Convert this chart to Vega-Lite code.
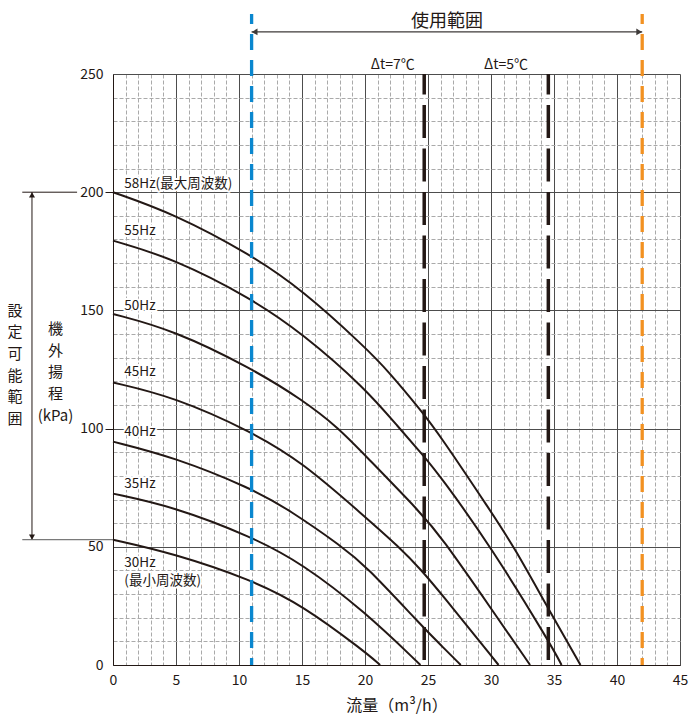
{
  "$schema": "https://vega.github.io/schema/vega-lite/v6.json",
  "width": 567,
  "height": 591,
  "autosize": {"type": "none"},
  "padding": {"left": 113, "top": 74, "right": 11, "bottom": 63},
  "background": "white",
  "config": {
    "view": {"stroke": null},
    "font": "Noto Sans CJK JP",
    "text": {"font": "Noto Sans CJK JP", "color": "#231815"}
  },
  "datasets": {
    "curves": [
      {"f": "58Hz", "Q": 0, "H": 200}, {"f": "58Hz", "Q": 4.8, "H": 191}, {"f": "58Hz", "Q": 11, "H": 173.4},
      {"f": "58Hz", "Q": 15, "H": 158.7}, {"f": "58Hz", "Q": 20, "H": 134.5},
      {"f": "58Hz", "Q": 21.9, "H": 124}, {"f": "58Hz", "Q": 24.5, "H": 107.3}, {"f": "58Hz", "Q": 25.9, "H": 97.5},
      {"f": "58Hz", "Q": 30, "H": 64.9}, {"f": "58Hz", "Q": 31.9, "H": 49.3}, {"f": "58Hz", "Q": 34.4, "H": 25.2},
      {"f": "58Hz", "Q": 37.1, "H": 0},
      {"f": "55Hz", "Q": 0, "H": 179.5}, {"f": "55Hz", "Q": 4.8, "H": 172}, {"f": "55Hz", "Q": 11, "H": 155},
      {"f": "55Hz", "Q": 15, "H": 140.4}, {"f": "55Hz", "Q": 20, "H": 117.2}, {"f": "55Hz", "Q": 22.7, "H": 100.3},
      {"f": "55Hz", "Q": 24.6, "H": 88.8}, {"f": "55Hz", "Q": 26, "H": 79.7}, {"f": "55Hz", "Q": 30, "H": 50},
      {"f": "55Hz", "Q": 34.8, "H": 8.2}, {"f": "55Hz", "Q": 35.6, "H": 0},
      {"f": "50Hz", "Q": 0, "H": 148.5}, {"f": "50Hz", "Q": 4.8, "H": 141.7}, {"f": "50Hz", "Q": 11, "H": 125.5},
      {"f": "50Hz", "Q": 15, "H": 112.3}, {"f": "50Hz", "Q": 17.9, "H": 100.3}, {"f": "50Hz", "Q": 20, "H": 88.7},
      {"f": "50Hz", "Q": 24.5, "H": 64}, {"f": "50Hz", "Q": 26, "H": 54.5}, {"f": "50Hz", "Q": 30, "H": 24},
      {"f": "50Hz", "Q": 33.1, "H": 0},
      {"f": "45Hz", "Q": 0, "H": 119.5}, {"f": "45Hz", "Q": 4.8, "H": 113.5}, {"f": "45Hz", "Q": 11, "H": 98.7},
      {"f": "45Hz", "Q": 15, "H": 85.9}, {"f": "45Hz", "Q": 20, "H": 62.7}, {"f": "45Hz", "Q": 22.7, "H": 50},
      {"f": "45Hz", "Q": 24.5, "H": 40}, {"f": "45Hz", "Q": 26, "H": 30.5}, {"f": "45Hz", "Q": 30.6, "H": 0},
      {"f": "40Hz", "Q": 0, "H": 94.5}, {"f": "40Hz", "Q": 4.8, "H": 88}, {"f": "40Hz", "Q": 11, "H": 74.7},
      {"f": "40Hz", "Q": 14, "H": 65.6}, {"f": "40Hz", "Q": 18.2, "H": 50}, {"f": "40Hz", "Q": 20, "H": 42.3},
      {"f": "40Hz", "Q": 24.6, "H": 16}, {"f": "40Hz", "Q": 26, "H": 8.5}, {"f": "40Hz", "Q": 27.6, "H": 0},
      {"f": "35Hz", "Q": 0, "H": 72.5}, {"f": "35Hz", "Q": 4.8, "H": 67}, {"f": "35Hz", "Q": 11, "H": 54.3},
      {"f": "35Hz", "Q": 15, "H": 43}, {"f": "35Hz", "Q": 20, "H": 22.5}, {"f": "35Hz", "Q": 24.4, "H": 0},
      {"f": "30Hz", "Q": 0, "H": 53}, {"f": "30Hz", "Q": 4.8, "H": 47.2}, {"f": "30Hz", "Q": 11, "H": 36},
      {"f": "30Hz", "Q": 15, "H": 25.4}, {"f": "30Hz", "Q": 20, "H": 5.6}, {"f": "30Hz", "Q": 21.2, "H": 0}
    ],
    "labels": [
      {"Q": 0.9, "H": 203.5, "t": "58Hz(最大周波数)"},
      {"Q": 0.9, "H": 183.6, "t": "55Hz"},
      {"Q": 0.9, "H": 151.9, "t": "50Hz"},
      {"Q": 0.9, "H": 124, "t": "45Hz"},
      {"Q": 0.9, "H": 98.7, "t": "40Hz"},
      {"Q": 0.9, "H": 76.6, "t": "35Hz"},
      {"Q": 0.9, "H": 43, "t": "30Hz\n(最小周波数)"}
    ]
  },
  "encoding": {
    "x": {
      "field": "Q", "type": "quantitative",
      "scale": {"domain": [0, 45], "nice": false, "zero": false},
      "axis": {
        "values": [0,1,2,3,4,5,6,7,8,9,10,11,12,13,14,15,16,17,18,19,20,21,22,23,24,25,26,27,28,29,30,31,32,33,34,35,36,37,38,39,40,41,42,43,44,45],
        "labelExpr": "datum.value % 5 === 0 ? datum.label : ''",
        "labelOverlap": false,
        "labelFlush": false,
        "labelFont": "Noto Sans CJK JP",
        "labelFontSize": 14,
        "labelColor": "#231815",
        "labelPadding": 8,
        "ticks": false,
        "domainColor": "#231815",
        "grid": true,
        "gridColor": {"condition": {"test": "datum.value % 5 === 0", "value": "#4d4d4d"}, "value": "#aaaaaa"},
        "gridDash": {"condition": {"test": "datum.value % 5 === 0", "value": []}, "value": [4, 2]},
        "gridWidth": 1,
        "title": "流量（m³/h）",
        "titleFont": "Noto Sans CJK JP",
        "titleFontSize": 16,
        "titleFontWeight": "normal",
        "titleColor": "#231815",
        "titleBaseline": "middle",
        "titleY": 40
      }
    },
    "y": {
      "field": "H", "type": "quantitative",
      "scale": {"domain": [0, 250], "nice": false},
      "axis": {
        "values": [0,10,20,30,40,50,60,70,80,90,100,110,120,130,140,150,160,170,180,190,200,210,220,230,240,250],
        "labelExpr": "datum.value % 50 === 0 ? datum.label : ''",
        "labelOverlap": false,
        "labelFont": "Noto Sans CJK JP",
        "labelFontSize": 14,
        "labelColor": "#231815",
        "labelPadding": 2,
        "tickSize": 8,
        "tickColor": "#231815",
        "tickOpacity": {"condition": {"test": "datum.value === 100 || datum.value === 200", "value": 1}, "value": 0},
        "domainColor": "#231815",
        "grid": true,
        "gridColor": {"condition": {"test": "datum.value % 50 === 0", "value": "#4d4d4d"}, "value": "#aaaaaa"},
        "gridDash": {"condition": {"test": "datum.value % 50 === 0", "value": []}, "value": [4, 2]},
        "gridWidth": 1,
        "title": ["機", "外", "揚", "程", "(kPa)"],
        "titleAngle": 0,
        "titleAlign": "center",
        "titleBaseline": "middle",
        "titleX": -58,
        "titleY": 254.5,
        "titleLineHeight": 21.7,
        "titleFont": "Noto Sans CJK JP",
        "titleFontSize": 15,
        "titleFontWeight": "normal",
        "titleColor": "#231815"
      }
    }
  },
  "layer": [
    {
      "data": {"name": "labels"},
      "mark": {"type": "text", "align": "left", "baseline": "middle", "fontSize": 13.5, "lineHeight": 18, "lineBreak": "\n", "fill": "white", "stroke": "white", "strokeWidth": 4, "strokeJoin": "round"},
      "encoding": {"text": {"field": "t"}}
    },
    {
      "data": {"name": "curves"},
      "mark": {"type": "line", "color": "#231815", "strokeWidth": 2, "interpolate": "basis"},
      "encoding": {"detail": {"field": "f"}}
    },
    {
      "data": {"values": [{"Q": 24.7, "H": 250, "H2": 0}, {"Q": 34.55, "H": 250, "H2": 0}]},
      "mark": {"type": "rule", "color": "#231815", "strokeWidth": 3.5, "strokeDash": [33, 10.5], "strokeDashOffset": 12.5},
      "encoding": {"y2": {"field": "H2"}}
    },
    {
      "data": {"values": [{"Q": 11, "H": 275.4, "H2": 0}]},
      "mark": {"type": "rule", "color": "#0a87cf", "strokeWidth": 3.3, "strokeDash": [16, 10], "strokeDashOffset": 6},
      "encoding": {"y2": {"field": "H2"}}
    },
    {
      "data": {"values": [{"Q": 42, "H": 275.4, "H2": 0}]},
      "mark": {"type": "rule", "color": "#f29121", "strokeWidth": 3.3, "strokeDash": [16, 10], "strokeDashOffset": 6},
      "encoding": {"y2": {"field": "H2"}}
    },
    {
      "data": {"name": "labels"},
      "mark": {"type": "text", "align": "left", "baseline": "middle", "fontSize": 13.5, "lineHeight": 18, "lineBreak": "\n", "color": "#231815"},
      "encoding": {"text": {"field": "t"}}
    },
    {
      "data": {"values": [{"Q": 11, "Q2": 42, "H": 267.8}]},
      "mark": {"type": "rule", "color": "#3e3a39", "strokeWidth": 1.2},
      "encoding": {"x2": {"field": "Q2"}}
    },
    {
      "data": {"values": [{"Q": 11, "H": 267.8}]},
      "mark": {"type": "point", "shape": "triangle-left", "filled": true, "size": 45, "color": "#3e3a39", "opacity": 1, "xOffset": 3}
    },
    {
      "data": {"values": [{"Q": 42, "H": 267.8}]},
      "mark": {"type": "point", "shape": "triangle-right", "filled": true, "size": 45, "color": "#3e3a39", "opacity": 1, "xOffset": -3}
    },
    {
      "data": {"values": [{"Q": 26.5, "H": 272, "t": "使用範囲"}]},
      "mark": {"type": "text", "align": "center", "baseline": "middle", "fontSize": 18},
      "encoding": {"text": {"field": "t"}}
    },
    {
      "data": {"values": [{"Q": 22.2, "H": 254, "t": "Δt=7℃"}, {"Q": 31.2, "H": 254, "t": "Δt=5℃"}]},
      "mark": {"type": "text", "align": "center", "baseline": "middle", "fontSize": 14},
      "encoding": {"text": {"field": "t"}}
    },
    {
      "data": {"values": [{"Q": -6.43, "H": 53, "H2": 200}]},
      "mark": {"type": "rule", "color": "#231815", "strokeWidth": 1},
      "encoding": {"y2": {"field": "H2"}}
    },
    {
      "data": {"values": [{"Q": -7.2, "Q2": -2.85, "H": 200}]},
      "mark": {"type": "rule", "color": "#231815", "strokeWidth": 1},
      "encoding": {"x2": {"field": "Q2"}}
    },
    {
      "data": {"values": [{"Q": -7.2, "Q2": 0, "H": 53}]},
      "mark": {"type": "rule", "color": "#7a7a7a", "strokeWidth": 1.2},
      "encoding": {"x2": {"field": "Q2"}}
    },
    {
      "data": {"values": [{"Q": -6.43, "H": 200}]},
      "mark": {"type": "point", "shape": "triangle-up", "filled": true, "size": 36, "color": "#231815", "opacity": 1, "yOffset": 2.6}
    },
    {
      "data": {"values": [{"Q": -6.43, "H": 53}]},
      "mark": {"type": "point", "shape": "triangle-down", "filled": true, "size": 36, "color": "#231815", "opacity": 1, "yOffset": -2.6}
    },
    {
      "data": {"values": [{"Q": -7.78, "H": 149.9, "t": "設\n定\n可\n能\n範\n囲"}]},
      "mark": {"type": "text", "align": "center", "baseline": "middle", "fontSize": 15, "lineHeight": 21.7, "lineBreak": "\n"},
      "encoding": {"text": {"field": "t"}}
    }
  ]
}
